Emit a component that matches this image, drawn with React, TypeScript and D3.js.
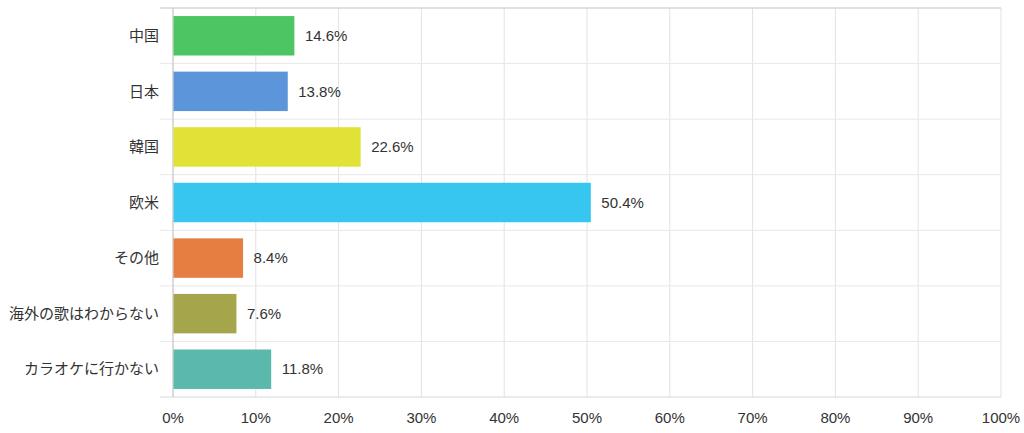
import { useEffect, useRef } from "react";
import * as d3 from "d3";

const categories = [
  "中国",
  "日本",
  "韓国",
  "欧米",
  "その他",
  "海外の歌はわからない",
  "カラオケに行かない",
];
const values = [14.6, 13.8, 22.6, 50.4, 8.4, 7.6, 11.8];
const barColors = [
  "#4cc562",
  "#5c95da",
  "#e0e235",
  "#36c6ef",
  "#e67d41",
  "#a5a64b",
  "#5ab8ac",
];
const xTicks = [0, 10, 20, 30, 40, 50, 60, 70, 80, 90, 100];

const width = 1024;
const height = 433;
const margin = { top: 8, right: 23, bottom: 36, left: 173 };
const font = "'Liberation Sans', Arial, 'Noto Sans CJK JP', sans-serif";

export default function App() {
  const svgRef = useRef<SVGSVGElement>(null);

  useEffect(() => {
    if (!svgRef.current) return;
    const svg = d3.select(svgRef.current);
    svg.selectAll("*").remove();

    const x = d3
      .scaleLinear()
      .domain([0, 100])
      .range([margin.left, width - margin.right]);
    const y = d3
      .scaleBand<string>()
      .domain(categories)
      .range([margin.top, height - margin.bottom])
      .paddingInner(0.29)
      .paddingOuter(0.145);
    const step = y.step();
    const bandTop = margin.top;
    const bandBottom = height - margin.bottom;

    // vertical grid
    svg
      .append("g")
      .selectAll("line")
      .data(xTicks)
      .enter()
      .append("line")
      .attr("x1", (d) => x(d))
      .attr("x2", (d) => x(d))
      .attr("y1", bandTop)
      .attr("y2", bandBottom)
      .attr("stroke", "#e2e2e2")
      .attr("stroke-width", 1);

    // horizontal grid
    const hLines = d3.range(categories.length + 1);
    svg
      .append("g")
      .selectAll("line")
      .data(hLines)
      .enter()
      .append("line")
      .attr("x1", margin.left - 13)
      .attr("x2", x(100))
      .attr("y1", (i) => bandTop + i * step)
      .attr("y2", (i) => bandTop + i * step)
      .attr("stroke", (i) =>
        i === 0 || i === categories.length ? "#d6d6d6" : "#e8e8e8",
      )
      .attr("stroke-width", (i) => (i === 0 ? 1.5 : 1));

    // left axis line
    svg
      .append("line")
      .attr("x1", x(0))
      .attr("x2", x(0))
      .attr("y1", bandTop)
      .attr("y2", bandBottom)
      .attr("stroke", "#c4c4c4");

    // bars
    svg
      .append("g")
      .selectAll("rect")
      .data(values)
      .enter()
      .append("rect")
      .attr("x", x(0) + 0.5)
      .attr("y", (_, i) => y(categories[i])!)
      .attr("width", (d) => x(d) - x(0))
      .attr("height", y.bandwidth())
      .attr("fill", (_, i) => barColors[i]);

    // value labels
    svg
      .append("g")
      .selectAll("text")
      .data(values)
      .enter()
      .append("text")
      .attr("x", (d) => x(d) + 11)
      .attr("y", (_, i) => y(categories[i])! + y.bandwidth() / 2)
      .attr("dy", "0.35em")
      .style("font-family", font)
      .style("font-size", "15px")
      .style("fill", "#333")
      .text((d) => `${d.toFixed(1)}%`);

    // category labels
    svg
      .append("g")
      .selectAll("text")
      .data(categories)
      .enter()
      .append("text")
      .attr("x", margin.left - 14)
      .attr("y", (d) => y(d)! + y.bandwidth() / 2)
      .attr("dy", "0.35em")
      .attr("text-anchor", "end")
      .style("font-family", font)
      .style("font-size", "15px")
      .style("fill", "#333")
      .text((d) => d);

    // x tick labels
    svg
      .append("g")
      .selectAll("text")
      .data(xTicks)
      .enter()
      .append("text")
      .attr("x", (d) => x(d))
      .attr("y", bandBottom + 21)
      .attr("dy", "0.35em")
      .attr("text-anchor", "middle")
      .style("font-family", font)
      .style("font-size", "15px")
      .style("fill", "#333")
      .text((d) => `${d}%`);
  }, []);

  return (
    <svg
      ref={svgRef}
      width={width}
      height={height}
      viewBox={`0 0 ${width} ${height}`}
      style={{ position: "absolute", left: 0, top: 0, background: "#fff" }}
    />
  );
}
